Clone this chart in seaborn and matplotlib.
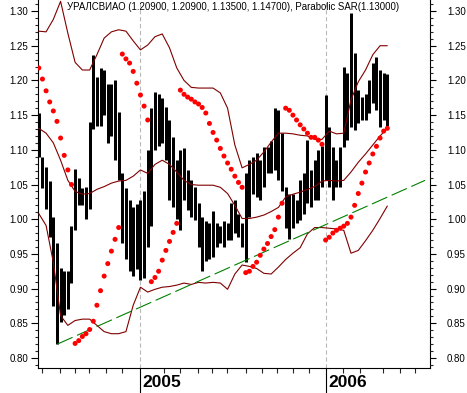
import numpy as np
import pandas as pd
import matplotlib
matplotlib.use('Agg')
import matplotlib.pyplot as plt
from matplotlib.ticker import FixedLocator, MultipleLocator, FormatStrFormatter, NullFormatter
import seaborn as sns

title = "УРАЛСВИАО (1.20900, 1.20900, 1.13500, 1.14700), Parabolic SAR(1.13000)"

# weekly bars (index = week number)
high = [1.153, 1.090, 1.075, 1.055, 1.003, 0.965, 0.930, 0.925, 0.925, 0.990,
        1.072, 1.060, 1.045, 1.046, 1.140, 1.236, 1.205, 1.218, 1.215, 1.195,
        1.195, 1.200, 1.155, 1.066, 1.045, 1.027, 1.017, 1.022, 1.028, 1.040,
        1.100, 1.160, 1.183, 1.180, 1.175, 1.162, 1.143, 1.118, 1.085, 1.100,
        1.102, 1.071, 1.056, 1.046, 1.023, 1.003, 0.998, 0.995, 1.012, 0.994,
        0.990, 0.998, 0.994, 1.023, 1.027, 1.008, 0.994, 1.066, 1.085, 1.090,
        1.095, 1.085, 1.104, 1.104, 1.113, 1.160, 1.157, 1.124, 1.046, 1.037,
        1.037, 1.027, 1.056, 1.066, 1.114, 1.071, 1.085, 1.100, 1.105, 1.179,
        1.133, 1.104, 1.085, 1.104, 1.219, 1.210, 1.297, 1.239, 1.186, 1.176,
        1.181, 1.200, 1.225, 1.234, 1.215, 1.210, 1.209]
low = [1.090, 1.045, 1.015, 0.975, 0.875, 0.820, 0.852, 0.862, 0.870, 0.908,
       0.985, 1.020, 1.020, 1.000, 1.015, 1.130, 1.135, 1.135, 1.150, 1.110,
       1.120, 1.085, 1.056, 0.965, 0.942, 0.925, 0.918, 0.928, 0.912, 0.915,
       0.960, 0.990, 1.100, 1.105, 1.110, 1.085, 1.027, 1.017, 1.000, 0.985,
       1.027, 1.013, 1.003, 0.999, 0.960, 0.925, 0.940, 0.942, 0.946, 0.960,
       0.965, 0.960, 0.970, 0.970, 0.980, 0.974, 0.960, 0.938, 1.003, 1.037,
       1.032, 1.027, 1.046, 1.066, 1.066, 1.071, 1.056, 1.040, 0.988, 0.972,
       0.988, 0.994, 0.999, 1.008, 1.023, 1.017, 1.027, 1.027, 1.046, 1.056,
       1.046, 1.027, 1.046, 1.046, 1.104, 1.114, 1.133, 1.128, 1.138, 1.143,
       1.143, 1.153, 1.167, 1.157, 1.133, 1.143, 1.135]
sar = [1.218, 1.202, 1.185, 1.169, 1.156, 1.141, 1.117, 1.092, 1.071, 1.050,
       0.821, 0.825, 0.831, 0.835, 0.841, 0.853, 0.876, 0.897, 0.918, 0.936, 0.954, 0.971, 0.988,
       1.238, 1.231, 1.225, 1.213, 1.196, 1.179, 1.163, 1.143,
       0.910, 0.916, 0.925, 0.941, 0.955, 0.968, 0.981, 0.994,
       1.186, 1.180, 1.176, 1.173, 1.169, 1.166, 1.161, 1.153, 1.138, 1.125, 1.114, 1.102,
       1.091, 1.081, 1.072, 1.062, 1.053, 1.046,
       0.923, 0.925, 0.932, 0.938, 0.948, 0.957, 0.965, 0.975, 0.985, 1.003, 1.023,
       1.160, 1.157, 1.150, 1.143, 1.136, 1.130, 1.124, 1.118, 1.118, 1.114, 1.108,
       0.970, 0.974, 0.980, 0.984, 0.987, 0.990, 0.994, 1.003, 1.020, 1.037, 1.052,
       1.068, 1.081, 1.094, 1.105, 1.117, 1.127, 1.131]

# bands, sampled every second week
band_week = list(range(0, 97, 2))
upper = [1.271, 1.270, 1.288, 1.314, 1.268, 1.226, 1.215, 1.215, 1.237, 1.261,
         1.270, 1.273, 1.271, 1.257, 1.244, 1.251, 1.263, 1.267, 1.247, 1.218,
         1.200, 1.190, 1.189, 1.189, 1.189, 1.182, 1.160, 1.107, 1.074, 1.079,
         1.085, 1.097, 1.111, 1.124, 1.124, 1.123, 1.121, 1.120, 1.115, 1.115,
         1.127, 1.123, 1.124, 1.172, 1.198, 1.215, 1.237, 1.250, 1.250]
middle = [1.131, 1.124, 1.110, 1.085, 1.056, 1.040, 1.036, 1.037, 1.043, 1.047,
          1.052, 1.055, 1.056, 1.062, 1.071, 1.066, 1.079, 1.085, 1.079, 1.068,
          1.056, 1.050, 1.049, 1.049, 1.049, 1.046, 1.037, 1.020, 1.001, 1.001,
          1.003, 1.006, 1.011, 1.017, 1.032, 1.036, 1.039, 1.043, 1.047, 1.055,
          1.056, 1.055, 1.056, 1.068, 1.082, 1.094, 1.107, 1.120, 1.131]
lower = [1.008, 0.991, 0.938, 0.861, 0.847, 0.854, 0.856, 0.856, 0.847, 0.838,
         0.835, 0.835, 0.838, 0.876, 0.902, 0.895, 0.899, 0.902, 0.903, 0.905,
         0.908, 0.906, 0.909, 0.908, 0.909, 0.908, 0.899, 0.921, 0.934, 0.932,
         0.929, 0.922, 0.921, 0.931, 0.942, 0.951, 0.959, 0.979, 0.988, 0.988,
         0.987, 0.986, 0.984, 0.951, 0.955, 0.969, 0.984, 1.001, 1.019]

trend_week = [5.1, 106.4]
trend_value = [0.820, 1.056]

year_week = [27.8, 79.05]
year_labels = ['2005', '2006']
month_week = [0.9, 5.8, 9.9, 13.8, 18.6, 22.9, 34.4, 39.0, 43.8, 47.7, 51.8,
              57.1, 61.5, 65.6, 70.0, 74.3, 83.9, 88.5, 94.9, 99.5, 103.6]

sns.set_style('white')
plt.rcParams['font.family'] = ['Liberation Sans', 'DejaVu Sans']
plt.rcParams['lines.scale_dashes'] = False

df = pd.DataFrame({'week': np.arange(len(high)), 'high': high, 'low': low, 'sar': sar})
bands = pd.DataFrame({'week': band_week, 'upper': upper, 'middle': middle, 'lower': lower})

fig = plt.figure(figsize=(4.67, 3.93), dpi=100)
ax = fig.add_axes([37.5 / 467, 25.5 / 393, 392.5 / 467, 367.5 / 393])

for xw in year_week:
    ax.axvline(xw, color='#b8b8b8', lw=0.8, linestyle=(0, (3, 2)), zorder=0)

ax.vlines(df['week'], df['low'], df['high'], color='black', linewidth=2.15, zorder=2)
for col in ['upper', 'middle', 'lower']:
    sns.lineplot(data=bands, x='week', y=col, ax=ax, color='#800000', linewidth=0.8, zorder=3)
ax.plot(trend_week, trend_value, color='#008000', lw=0.8, linestyle=(0, (12, 3.5)), zorder=3)
sns.scatterplot(data=df, x='week', y='sar', ax=ax, color='#ff0000', marker='o', s=13,
                edgecolor='none', linewidth=0, zorder=5)

ymin, ymax = 0.7863, 1.3159
ax.set_xlim(-0.36, 107.76)
ax.set_ylim(ymin, ymax)
ax.set_xlabel('')
ax.set_ylabel('')

for side in ['left', 'right', 'bottom']:
    ax.spines[side].set_visible(True)
    ax.spines[side].set_color('black')
    ax.spines[side].set_linewidth(0.8)
ax.spines['top'].set_visible(False)

ax.yaxis.set_major_locator(MultipleLocator(0.05))
ax.yaxis.set_minor_locator(MultipleLocator(0.01))
ax.yaxis.set_major_formatter(FormatStrFormatter('%.2f'))
ax.tick_params(axis='y', which='major', left=True, right=False, length=5, width=0.8,
               direction='out', pad=1.7, labelsize=7, colors='black')
ax.tick_params(axis='y', which='minor', left=True, right=False, length=2.2, width=0.8,
               direction='out')

ax2 = ax.twinx()
ax2.set_ylim(ymin, ymax)
ax2.yaxis.set_major_locator(MultipleLocator(0.05))
ax2.yaxis.set_minor_locator(MultipleLocator(0.01))
ax2.yaxis.set_major_formatter(FormatStrFormatter('%.2f'))
ax2.tick_params(axis='y', which='major', length=4.3, width=0.8, direction='out',
                pad=7.9, labelsize=7, colors='black')
ax2.tick_params(axis='y', which='minor', length=2.2, width=0.8, direction='out')
for s in ax2.spines.values():
    s.set_visible(False)

ax.xaxis.set_major_locator(FixedLocator(year_week))
ax.xaxis.set_minor_locator(FixedLocator(month_week))
ax.xaxis.set_major_formatter(NullFormatter())
ax.tick_params(axis='x', which='major', bottom=True, length=18, width=0.8, direction='out',
               colors='black')
ax.tick_params(axis='x', which='minor', bottom=True, length=3.6, width=0.8, direction='out')

for xw, lab in zip(year_week, year_labels):
    ax.annotate(lab, xy=(xw, 0), xycoords=('data', 'axes fraction'), xytext=(2, -5.5),
                textcoords='offset points', ha='left', va='top', fontsize=12.5,
                fontweight='bold', color='black')

ax.text(0.4987, 1 - 10 / 367.5, title, transform=ax.transAxes, ha='center',
        va='baseline', fontsize=6.9, color='black')

fig.savefig('out.png', dpi=100)
